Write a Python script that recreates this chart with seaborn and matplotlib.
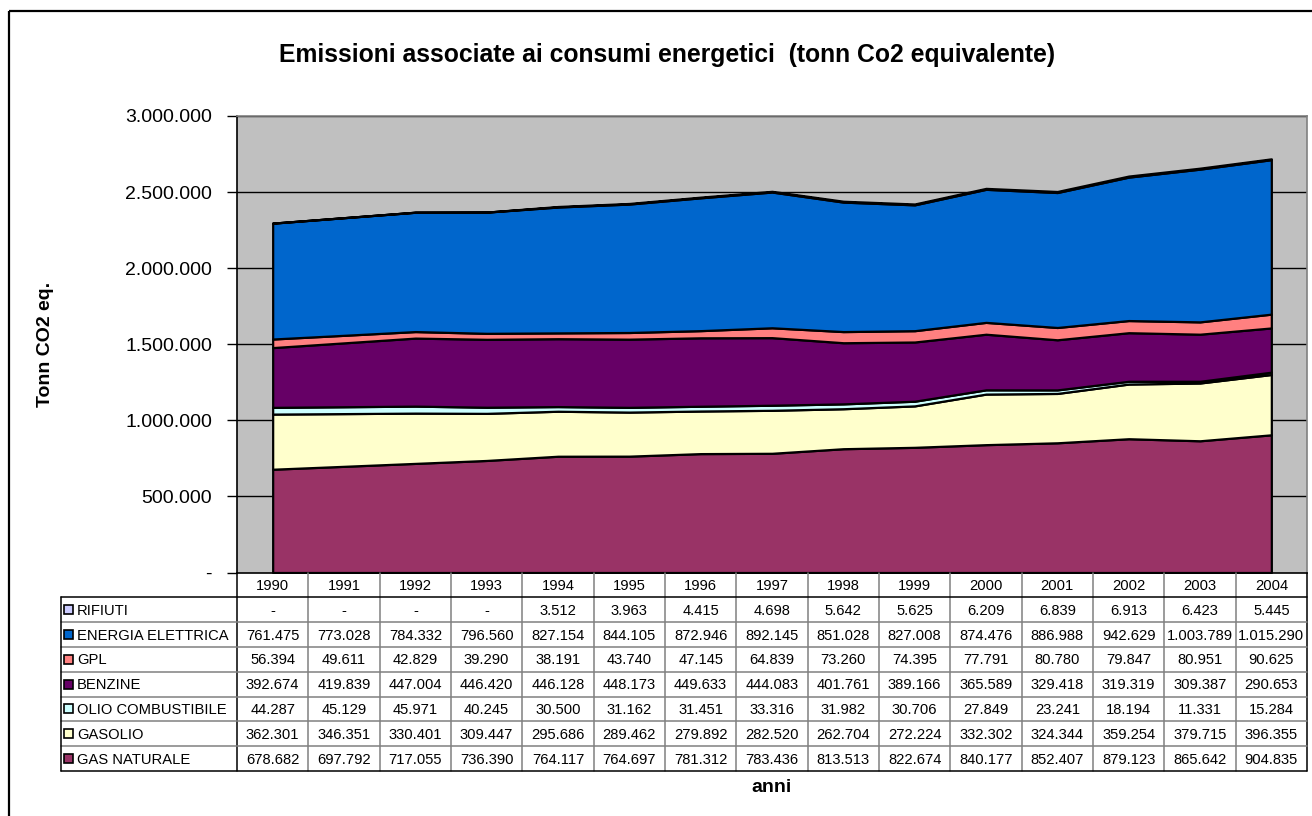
import numpy as np
import matplotlib
matplotlib.use("Agg")
import matplotlib.pyplot as plt
from matplotlib.patches import Rectangle
import seaborn as sns

# ---- data (tonn CO2 eq.) ----
years = [1990, 1991, 1992, 1993, 1994, 1995, 1996, 1997, 1998, 1999,
         2000, 2001, 2002, 2003, 2004]
gas_naturale = [678682, 697792, 717055, 736390, 764117, 764697, 781312, 783436,
                813513, 822674, 840177, 852407, 879123, 865642, 904835]
gasolio = [362301, 346351, 330401, 309447, 295686, 289462, 279892, 282520,
           262704, 272224, 332302, 324344, 359254, 379715, 396355]
olio_combustibile = [44287, 45129, 45971, 40245, 30500, 31162, 31451, 33316,
                     31982, 30706, 27849, 23241, 18194, 11331, 15284]
benzine = [392674, 419839, 447004, 446420, 446128, 448173, 449633, 444083,
           401761, 389166, 365589, 329418, 319319, 309387, 290653]
gpl = [56394, 49611, 42829, 39290, 38191, 43740, 47145, 64839,
       73260, 74395, 77791, 80780, 79847, 80951, 90625]
energia_elettrica = [761475, 773028, 784332, 796560, 827154, 844105, 872946, 892145,
                     851028, 827008, 874476, 886988, 942629, 1003789, 1015290]
rifiuti = [0, 0, 0, 0, 3512, 3963, 4415, 4698,
           5642, 5625, 6209, 6839, 6913, 6423, 5445]

# stacking order, bottom to top
series_names = ["GAS NATURALE", "GASOLIO", "OLIO COMBUSTIBILE", "BENZINE",
                "GPL", "ENERGIA ELETTRICA", "RIFIUTI"]
series_values = [gas_naturale, gasolio, olio_combustibile, benzine,
                 gpl, energia_elettrica, rifiuti]
series_colors = ["#993366", "#FFFFCC", "#CCFFFF", "#660066",
                 "#FF8080", "#0066CC", "#CCCCFF"]

y_ticks = [0, 500000, 1000000, 1500000, 2000000, 2500000, 3000000]

title = "Emissioni associate ai consumi energetici  (tonn Co2 equivalente)"
y_label = "Tonn CO2 eq."
x_label = "anni"


def fmt_it(v):
    if v == 0:
        return "-"
    return f"{v:,}".replace(",", ".")


sns.set_style("white")
plt.rcParams["font.family"] = ["Liberation Sans", "DejaVu Sans"]
for key in ["text.color", "axes.labelcolor", "xtick.color", "ytick.color"]:
    plt.rcParams[key] = "black"
palette = sns.color_palette(series_colors)

W, H = 1312, 816
fig = plt.figure(figsize=(W / 100, H / 100), dpi=100)

# plot area geometry (pixels)
pl, pr, pt, pb = 237.0, 1307.0, 116.0, 572.5
ax = fig.add_axes([pl / W, 1 - pb / H, (pr - pl) / W, (pb - pt) / H])
ax.set_facecolor("#C0C0C0")

x = np.arange(len(years))
ax.stackplot(x, *[np.array(v) for v in series_values], colors=palette,
             edgecolor="black", linewidth=1.6, zorder=3)

ax.set_xlim(-0.5, len(years) - 0.5)
ax.set_ylim(0, 3000000)
ax.set_yticks(y_ticks)
ax.set_yticklabels([fmt_it(v) for v in y_ticks], fontsize=14)
ax.set_xticks([])
for v in y_ticks[1:]:
    ax.axhline(v, color="black", linewidth=1.0, zorder=1)
ax.tick_params(axis="y", direction="out", length=7, width=1.0, color="black",
               pad=11, left=True, labelcolor="black")
for side in ["top", "right"]:
    ax.spines[side].set_color("#808080")
    ax.spines[side].set_linewidth(1.2)
for side in ["left", "bottom"]:
    ax.spines[side].set_color("black")
    ax.spines[side].set_linewidth(1.2)

# overlay in pixel coordinates for titles, table and frame
ov = fig.add_axes([0, 0, 1, 1], zorder=5)
ov.set_xlim(0, W)
ov.set_ylim(H, 0)
ov.axis("off")
ov.patch.set_alpha(0)

ov.add_patch(Rectangle((9, 11), W + 50, H + 50, fill=False,
                       edgecolor="black", linewidth=1.6))

ov.text(667, 55, title, ha="center", va="center", fontsize=17.8,
        fontweight="bold", color="black")
ov.text(45, 344, y_label, ha="center", va="center", rotation=90,
        fontsize=14, fontweight="bold", color="black")
ov.text(772, 788, x_label, ha="center", va="center", fontsize=14,
        fontweight="bold", color="black")

# data table under the plot area
n = len(years)
col_w = (pr - pl) / n
row_h = 24.8
label_left = 60.5
t_top = pb
rows = list(zip(series_names, series_values, series_colors))[::-1]
n_rows = len(rows)
t_bottom = t_top + row_h * (n_rows + 1)
grid_c = "#808080"
tfs = 10.6

# header row with years
for i, yr in enumerate(years):
    cx = pl + (i + 0.5) * col_w
    ov.text(cx, t_top + row_h / 2 + 1, str(yr), ha="center", va="center",
            fontsize=tfs, color="black")

# vertical lines between data columns
for i in range(n + 1):
    xx = pl + i * col_w
    c = "black" if i in (0, n) else grid_c
    ov.plot([xx, xx], [t_top, t_bottom], color=c, linewidth=1.1)
# horizontal lines
for r in range(1, n_rows + 2):
    yy = t_top + r * row_h
    ov.plot([label_left, pr], [yy, yy],
            color="black" if r in (1, n_rows + 1) else grid_c, linewidth=1.1)
ov.plot([label_left, label_left], [t_top + row_h, t_bottom], color="black",
        linewidth=1.1)

for r, (name, vals, col) in enumerate(rows):
    cy = t_top + (r + 1.5) * row_h
    ov.add_patch(Rectangle((64.3, cy - 4.5), 9, 9, facecolor=col,
                           edgecolor="black", linewidth=1.2))
    ov.text(77, cy + 1, name, ha="left", va="center", fontsize=tfs,
            color="black")
    for i, v in enumerate(vals):
        cx = pl + (i + 0.5) * col_w
        ov.text(cx, cy + 1, fmt_it(v), ha="center", va="center", fontsize=tfs,
                color="black")

fig.savefig("out.png", dpi=100)
